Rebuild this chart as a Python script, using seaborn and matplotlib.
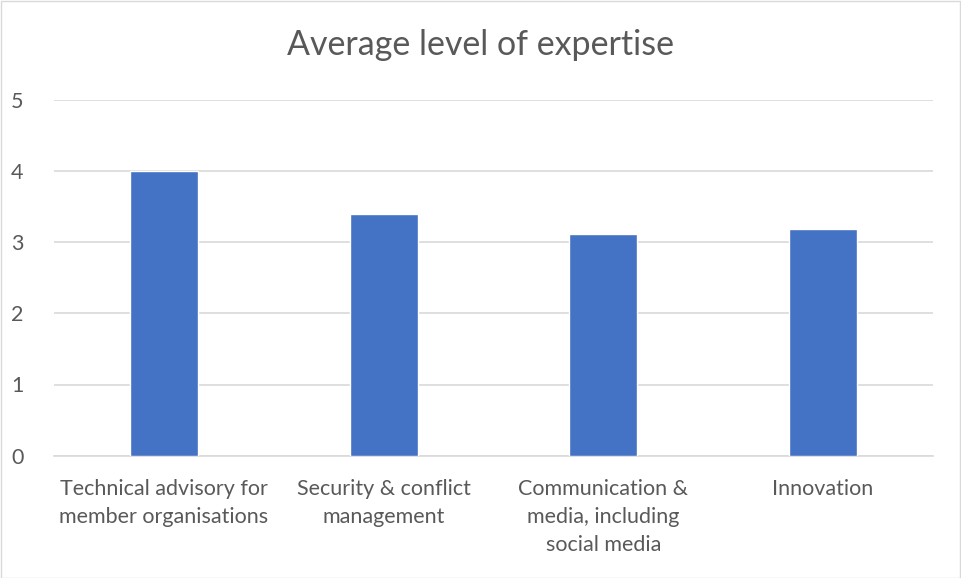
import matplotlib
matplotlib.use("Agg")
import matplotlib.pyplot as plt
import seaborn as sns
import pandas as pd
from matplotlib.patches import Rectangle

categories = ["Technical advisory for\nmember organisations",
              "Security & conflict\nmanagement",
              "Communication &\nmedia, including\nsocial media",
              "Innovation"]
values = [4.0, 3.40, 3.11, 3.18]
yticks = [0, 1, 2, 3, 4, 5]
title = "Average level of expertise"

sns.set_theme(style="white")
plt.rcParams['font.family'] = ['Lato', 'DejaVu Sans']

df = pd.DataFrame({"cat": categories, "val": values})

fig = plt.figure(figsize=(9.61, 5.78), dpi=100)
ax = fig.add_axes([54/961, 1-455.7/578, (933-54)/961, (455.7-99.7)/578])

sns.barplot(data=df, x="cat", y="val", color="#4472C4", saturation=1,
            width=0.31, ax=ax, zorder=3)

ax.set_ylim(0, 5)
ax.set_xlim(-0.5, 3.5)
ax.set_yticks(yticks)
ax.set_yticklabels([str(t) for t in yticks])
ax.yaxis.grid(True, color="#D9D9D9", linewidth=1.2, zorder=0)
ax.set_axisbelow(True)
for s in ["top", "right", "left"]:
    ax.spines[s].set_visible(False)
ax.spines["bottom"].set_color("#D9D9D9")
ax.spines["bottom"].set_linewidth(1.2)
ax.tick_params(axis="both", length=0, colors="#595959", labelsize=15.5)
ax.tick_params(axis="x", pad=17)
ax.tick_params(axis="y", pad=22)
ax.set_xlabel("")
ax.set_ylabel("")
for lbl in ax.get_xticklabels():
    lbl.set_linespacing(1.5)

fig.text(0.5, 1-45/578, title, ha="center", va="center",
         fontsize=24.5, color="#595959")

fig.patches.append(Rectangle((0.5/961, 0.5/578), 1-1.5/961, 1-1.5/578,
                             transform=fig.transFigure, fill=False,
                             edgecolor="#D9D9D9", linewidth=1))

fig.savefig("out.png", dpi=100)
